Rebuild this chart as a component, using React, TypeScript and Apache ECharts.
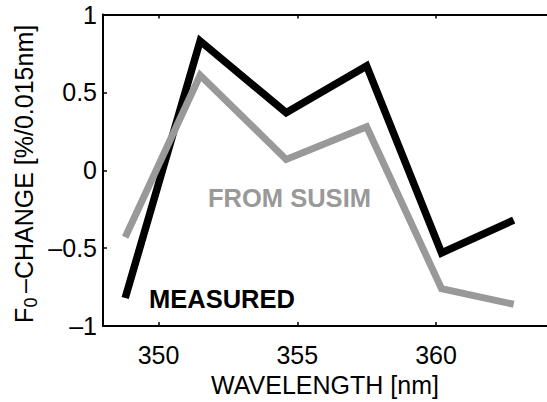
import React, { useEffect, useRef } from "react";
import * as echarts from "echarts";

const wavelengths = [348.8, 351.5, 354.6, 357.5, 360.2, 362.8];
const measured = [-0.82, 0.83, 0.37, 0.67, -0.53, -0.32];
const susim = [-0.43, 0.61, 0.07, 0.28, -0.76, -0.86];
const xTicks = [350, 355, 360];

const FONT = "'Liberation Sans', Arial, Helvetica, sans-serif";

export default function App() {
  const ref = useRef<HTMLDivElement>(null);
  useEffect(() => {
    if (!ref.current) return;
    const chart = echarts.init(ref.current, undefined, { renderer: "svg" });
    const fmt = (v: number) => (v < 0 ? "\u2013" + Math.abs(v) : String(v));
    const axisLine = { show: true, onZero: false, lineStyle: { color: "#000", width: 2 } };
    const tick = { show: true, inside: true, length: 4, lineStyle: { color: "#000", width: 1.5 } };
    const option: any = {
      animation: false,
      backgroundColor: "#fff",
      grid: { left: 103, right: -10.6, top: 14.5, bottom: 65.5, containLabel: false },
      xAxis: [
        {
          type: "value",
          min: 348,
          max: 364,
          axisLine,
          axisTick: { ...tick, customValues: xTicks },
          axisLabel: { show: true, customValues: xTicks, margin: 16, color: "#000", fontSize: 25, fontFamily: FONT },
          splitLine: { show: false },
          name: "WAVELENGTH [nm]",
          nameLocation: "middle",
          nameGap: 42,
          nameTextStyle: { color: "#000", fontSize: 25, fontFamily: FONT },
        },
        {
          type: "value",
          position: "top",
          min: 348,
          max: 364,
          axisLine,
          axisTick: { ...tick, customValues: xTicks },
          axisLabel: { show: false },
          splitLine: { show: false },
        },
      ],
      yAxis: {
        type: "value",
        min: -1,
        max: 1,
        interval: 0.5,
        axisLine,
        axisTick: tick,
        axisLabel: { margin: 6, color: "#000", fontSize: 25, fontFamily: FONT, formatter: fmt },
        splitLine: { show: false },
      },
      graphic: [
        {
          type: "text",
          x: 24,
          y: 323,
          rotation: Math.PI / 2,
          style: { text: "F", align: "left", verticalAlign: "middle", fill: "#000", font: `25px ${FONT}` },
        },
        {
          type: "text",
          x: 31,
          y: 307.5,
          rotation: Math.PI / 2,
          style: { text: "0", align: "left", verticalAlign: "middle", fill: "#000", font: `18px ${FONT}` },
        },
        {
          type: "text",
          x: 24,
          y: 293,
          rotation: Math.PI / 2,
          style: {
            text: "\u2013CHANGE [%/0.015nm]",
            align: "left",
            verticalAlign: "middle",
            fill: "#000",
            font: `25px ${FONT}`,
          },
        },
        {
          type: "text",
          x: 289.5,
          y: 198,
          style: {
            text: "FROM SUSIM",
            align: "center",
            verticalAlign: "middle",
            fill: "#999999",
            font: `bold 25.5px ${FONT}`,
          },
        },
        {
          type: "text",
          x: 149,
          y: 299,
          style: {
            text: "MEASURED",
            align: "left",
            verticalAlign: "middle",
            fill: "#000",
            font: `bold 25.5px ${FONT}`,
          },
        },
      ],
      series: [
        {
          type: "line",
          name: "MEASURED",
          data: wavelengths.map((w, i) => [w, measured[i]]),
          showSymbol: false,
          symbol: "none",
          lineStyle: { color: "#000", width: 7.5, join: "miter", cap: "butt" },
          z: 2,
        },
        {
          type: "line",
          name: "FROM SUSIM",
          data: wavelengths.map((w, i) => [w, susim[i]]),
          showSymbol: false,
          symbol: "none",
          lineStyle: { color: "#999999", width: 7, join: "miter", cap: "butt" },
          z: 3,
        },
      ],
    };
    chart.setOption(option);
    return () => chart.dispose();
  }, []);
  return (
    <div
      ref={ref}
      style={{ position: "fixed", left: 0, top: 0, width: 547, height: 402, overflow: "hidden", background: "#fff" }}
    />
  );
}
